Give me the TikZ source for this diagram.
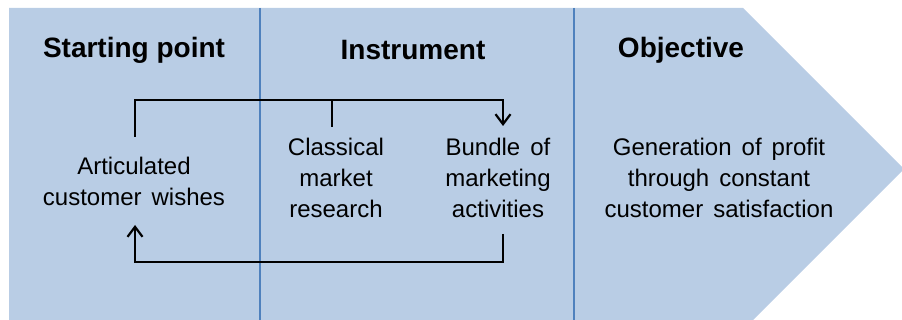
\documentclass[tikz,border=0pt]{standalone}
\usepackage{fontspec}
\setmainfont{Liberation Sans}
\newfontfamily\bodyfont[WordSpace=1.5]{Liberation Sans}
\usetikzlibrary{arrows.meta}
\definecolor{panel}{HTML}{B9CDE5}
\definecolor{divider}{HTML}{4F81BD}
\begin{document}
\begin{tikzpicture}[x=1pt,y=-1pt,
  heading/.style={font=\fontsize{28}{32}\selectfont\bfseries, inner sep=0pt},
  body/.style={font=\bodyfont\fontsize{24}{31}\selectfont, align=center, inner sep=0pt},
  link/.style={draw=black, line width=2.2pt},
  tip/.style={-{Straight Barb[length=10pt,width=15pt]}}]
\useasboundingbox (0,0) rectangle (902,320);
% chevron-shaped background panel
\begin{scope}
  \clip (0,0) rectangle (902,320);
  \fill[panel] (9,8) -- (743,8) -- (904,169) -- (743,330) -- (9,330) -- cycle;
\end{scope}
% column dividers
\draw[divider, line width=1.5pt] (260,8) -- (260,320);
\draw[divider, line width=1.5pt] (574,8) -- (574,320);
% column headings
\node[heading] (start) at (134,50) {Starting point};
\node[heading] (instr) at (413,50) {Instrument};
\node[heading] (obj)   at (681,50) {Objective};
% body texts
\node[body] (wish)     at (134,181) {Articulated\\customer wishes};
\node[body] (research) at (336,178) {Classical\\market\\research};
\node[body] (bundle)   at (498,178) {Bundle of\\marketing\\activities};
\node[body] (goal)     at (719,178) {Generation of profit\\through constant\\customer satisfaction};
% connector end points
\coordinate (wishOut)     at (135,137);
\coordinate (wishIn)      at (135,225);
\coordinate (researchOut) at (332,127);
\coordinate (bundleIn)    at (503,126);
\coordinate (bundleOut)   at (503,234);
\coordinate (topRail)     at (0,100);
\coordinate (bottomRail)  at (0,262);
% feedback loop
\draw[link, tip] (wishOut) -- (wishOut |- topRail) -| (bundleIn);
\draw[link] (researchOut) -- (researchOut |- topRail);
\draw[link, tip] (bundleOut) -- (bundleOut |- bottomRail) -| (wishIn);
\end{tikzpicture}
\end{document}
